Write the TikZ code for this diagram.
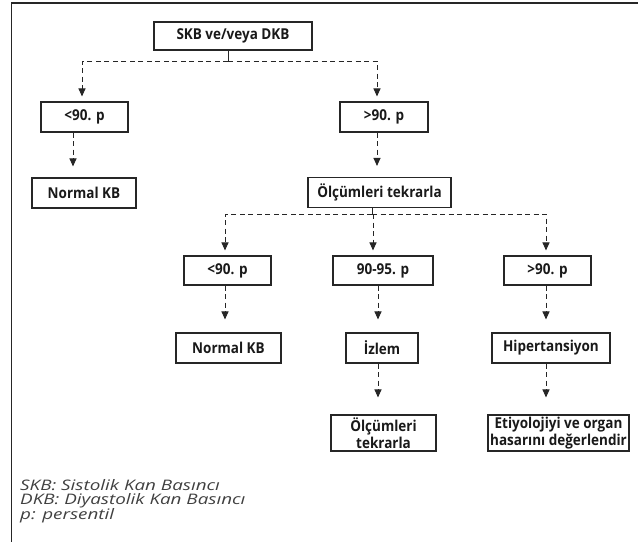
\documentclass[tikz,border=0pt]{standalone}
\usepackage{fontspec}
\setmainfont{Open Sans}
\newfontfamily\boxfont[FakeStretch=0.9]{Open Sans}
\newfontfamily\notefont[FakeStretch=1.3]{Open Sans}
\usetikzlibrary{positioning, arrows.meta, calc}

\begin{document}
\begin{tikzpicture}[x=1pt, y=-1pt, >={Triangle[width=7pt, length=8pt]},
  box/.style={draw=black!85, line width=1.1pt, inner sep=1pt, align=center, font=\boxfont\fontsize{15}{16.5}\selectfont\bfseries, text=black!90},
  link/.style={->, dash pattern=on 5pt off 3.5pt, line width=1pt, draw=black!85, shorten >=5pt},
  stem/.style={line width=1pt, draw=black!85}]
\useasboundingbox (0,0) rectangle (638,542);
\draw[line width=1.6pt, black!85] (638,3) -- (11.5,3) -- (11.5,542);
\node[box, minimum width=158pt, minimum height=28pt] (skb) at (233,36) {SKB ve/veya DKB};
\node[box, minimum width=87pt, minimum height=30pt] (lt1) at (84.5,117) {<90. p};
\node[box, minimum width=88pt, minimum height=30pt] (gt1) at (384,117) {>90. p};
\node[box, minimum width=104pt, minimum height=30pt] (nkb1) at (84,193) {Normal KB};
\node[box, minimum width=143pt, minimum height=30pt] (olc1) at (379.5,192.5) {Ölçümleri tekrarla};
\node[box, minimum width=87pt, minimum height=29pt] (lt2) at (227.5,270.5) {<90. p};
\node[box, minimum width=100pt, minimum height=29pt] (mid) at (383,270.5) {90-95. p};
\node[box, minimum width=87pt, minimum height=29pt] (gt2) at (547.5,270.5) {>90. p};
\node[box, minimum width=105pt, minimum height=30pt] (nkb2) at (228.5,348) {Normal KB};
\node[box, minimum width=72pt, minimum height=30pt] (izl) at (382,348) {İzlem};
\node[box, minimum width=118pt, minimum height=30pt] (hip) at (551,348) {Hipertansiyon};
\node[box, minimum width=105pt, minimum height=36pt] (olc2) at (383.5,433) {Ölçümleri\\tekrarla};
\node[box, minimum width=141pt, minimum height=36pt] (eti) at (558.5,433) {Etiyolojiyi ve organ\\hasarını değerlendir};
\node[anchor=north west, inner sep=0pt, align=left, text=black!75, font=\notefont\fontsize{14.5}{14.7}\selectfont\itshape] (legend) at (20,479) {SKB: Sistolik Kan Basıncı\\DKB: Diyastolik Kan Basıncı\\p: persentil};
\coordinate (j1) at (228,61);
\coordinate (j2) at (372,214);
\draw[stem] (skb.south -| j1) -- (j1);
\draw[link] (j1) -| ([xshift=-2.5pt]lt1.north);
\draw[link] (j1) -| ([xshift=-7pt]gt1.north);
\draw[link, shorten >=11pt] ([xshift=-11.5pt]lt1.south) -- ([xshift=-11.5pt]lt1.south |- nkb1.north);
\draw[link, shorten >=11pt] ([xshift=-7pt]gt1.south) -- ([xshift=-7pt]gt1.south |- olc1.north);
\draw[stem] (olc1.south -| j2) -- (j2);
\draw[link] (j2) -| ([xshift=-2.5pt]lt2.north);
\draw[link] ([xshift=1pt]j2) -- ([xshift=1pt]j2 |- mid.north);
\draw[link] (j2) -| ([xshift=-1.5pt]gt2.north);
\draw[link, shorten >=13pt] ([xshift=-2.5pt]lt2.south) -- ([xshift=-2.5pt]lt2.south |- nkb2.north);
\draw[link, shorten >=13pt] ([xshift=-5pt]mid.south) -- ([xshift=-5pt]mid.south |- izl.north);
\draw[link, shorten >=13pt] ([xshift=-1.5pt]gt2.south) -- ([xshift=-1.5pt]gt2.south |- hip.north);
\draw[link, shorten >=17pt] ([xshift=-4pt]izl.south) -- ([xshift=-4pt]izl.south |- olc2.north);
\draw[link, shorten >=17pt] ([xshift=-5pt]hip.south) -- ([xshift=-5pt]hip.south |- eti.north);
\end{tikzpicture}
\end{document}
